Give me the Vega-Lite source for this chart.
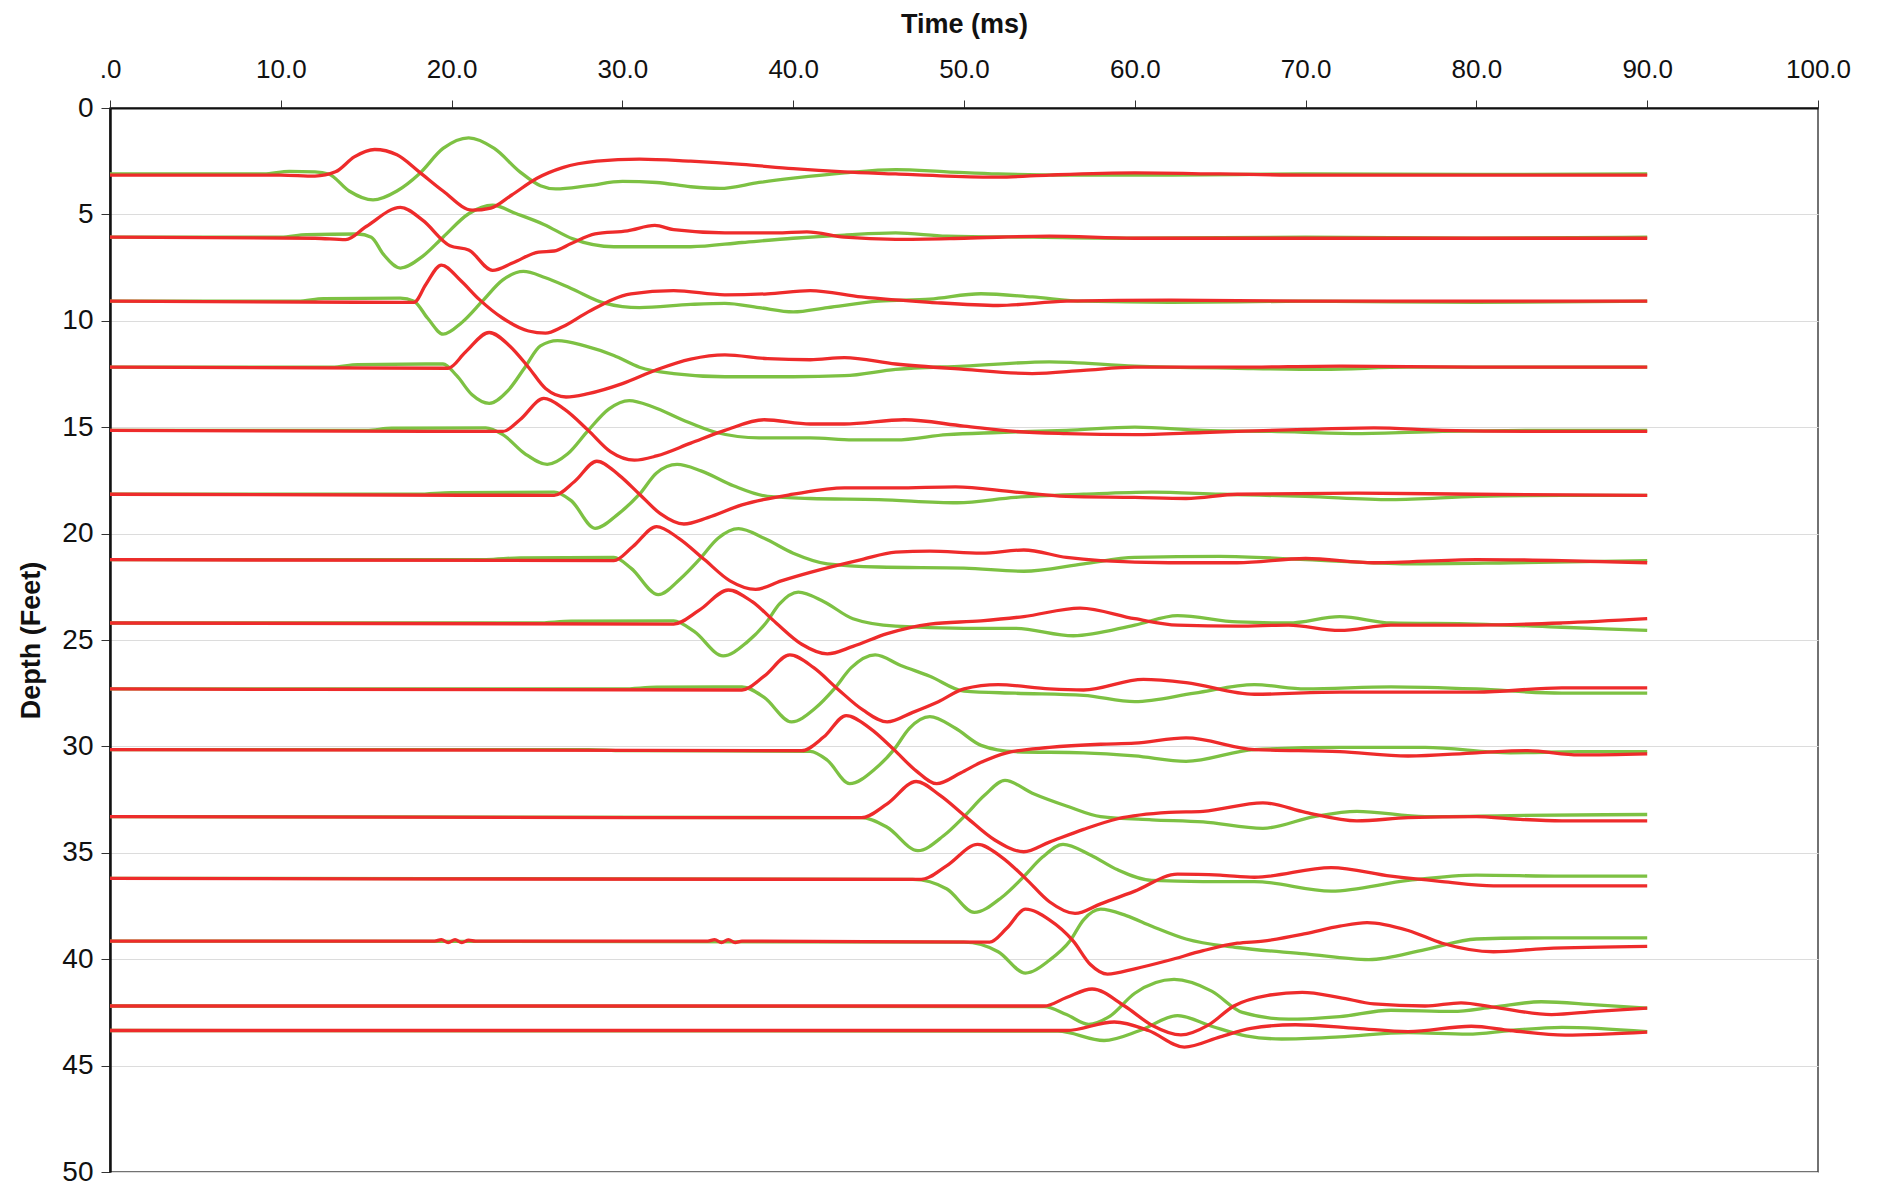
{
"$schema": "https://vega.github.io/schema/vega-lite/v6.json",
"width": 1708, "height": 1064,
"autosize": {"type": "none"},
"padding": {"left": 110, "top": 108, "right": 63, "bottom": 14},
"background": "white",
"config": {"view": {"stroke": "#444", "strokeWidth": 1.5}, "font": "Liberation Sans"},
"datasets": {
"green": [
{"s":1,"t":0,"y":3.1},{"s":1,"t":9,"y":3.1},{"s":1,"t":10.5,"y":2.98},{"s":1,"t":12,"y":3.0},{"s":1,"t":12.8,"y":3.1},{"s":1,"t":14,"y":3.9},{"s":1,"t":15.4,"y":4.32},{"s":1,"t":16.8,"y":3.9},{"s":1,"t":18.1,"y":3.1},{"s":1,"t":19.5,"y":1.9},{"s":1,"t":21,"y":1.4},{"s":1,"t":22.5,"y":1.9},{"s":1,"t":24,"y":3.0},{"s":1,"t":25.2,"y":3.65},{"s":1,"t":26.1,"y":3.8},{"s":1,"t":28,"y":3.65},{"s":1,"t":30,"y":3.45},{"s":1,"t":32,"y":3.5},{"s":1,"t":34,"y":3.7},{"s":1,"t":35.7,"y":3.78},{"s":1,"t":38,"y":3.5},{"s":1,"t":40,"y":3.3},{"s":1,"t":43,"y":3.05},{"s":1,"t":46,"y":2.9},{"s":1,"t":49,"y":3.0},{"s":1,"t":52,"y":3.1},{"s":1,"t":56,"y":3.15},{"s":1,"t":62,"y":3.15},{"s":1,"t":70,"y":3.1},{"s":1,"t":80,"y":3.12},{"s":1,"t":90,"y":3.1},
{"s":2,"t":0,"y":6.07},{"s":2,"t":10,"y":6.07},{"s":2,"t":11.5,"y":5.95},{"s":2,"t":14.5,"y":5.92},{"s":2,"t":15.3,"y":6.07},{"s":2,"t":16,"y":6.87},{"s":2,"t":17,"y":7.52},{"s":2,"t":18.3,"y":6.97},{"s":2,"t":19.5,"y":6.07},{"s":2,"t":21,"y":4.97},{"s":2,"t":22.4,"y":4.57},{"s":2,"t":23.8,"y":4.97},{"s":2,"t":25.4,"y":5.47},{"s":2,"t":27.1,"y":6.15},{"s":2,"t":29.5,"y":6.52},{"s":2,"t":32,"y":6.52},{"s":2,"t":34,"y":6.52},{"s":2,"t":37,"y":6.32},{"s":2,"t":40,"y":6.12},{"s":2,"t":43,"y":5.97},{"s":2,"t":46,"y":5.87},{"s":2,"t":49,"y":6.02},{"s":2,"t":54,"y":6.07},{"s":2,"t":60,"y":6.12},{"s":2,"t":70,"y":6.07},{"s":2,"t":80,"y":6.12},{"s":2,"t":90,"y":6.07},
{"s":3,"t":0,"y":9.08},{"s":3,"t":11,"y":9.08},{"s":3,"t":12.5,"y":8.96},{"s":3,"t":17,"y":8.93},{"s":3,"t":17.8,"y":9.08},{"s":3,"t":18.6,"y":9.88},{"s":3,"t":19.5,"y":10.63},{"s":3,"t":20.6,"y":10.08},{"s":3,"t":21.8,"y":9.08},{"s":3,"t":23,"y":8.08},{"s":3,"t":24.2,"y":7.68},{"s":3,"t":25.5,"y":7.98},{"s":3,"t":27,"y":8.48},{"s":3,"t":29,"y":9.18},{"s":3,"t":31,"y":9.38},{"s":3,"t":34,"y":9.23},{"s":3,"t":36,"y":9.18},{"s":3,"t":38,"y":9.38},{"s":3,"t":40,"y":9.58},{"s":3,"t":42,"y":9.38},{"s":3,"t":45,"y":9.08},{"s":3,"t":48,"y":8.98},{"s":3,"t":51,"y":8.73},{"s":3,"t":54,"y":8.88},{"s":3,"t":57,"y":9.08},{"s":3,"t":62,"y":9.13},{"s":3,"t":70,"y":9.08},{"s":3,"t":80,"y":9.13},{"s":3,"t":90,"y":9.08},
{"s":4,"t":0,"y":12.18},{"s":4,"t":13,"y":12.18},{"s":4,"t":14.5,"y":12.06},{"s":4,"t":19.5,"y":12.03},{"s":4,"t":20.3,"y":12.58},{"s":4,"t":21.2,"y":13.48},{"s":4,"t":22.2,"y":13.88},{"s":4,"t":23.3,"y":13.28},{"s":4,"t":24.3,"y":12.18},{"s":4,"t":25.2,"y":11.18},{"s":4,"t":26.2,"y":10.93},{"s":4,"t":27.8,"y":11.18},{"s":4,"t":29.5,"y":11.63},{"s":4,"t":31,"y":12.18},{"s":4,"t":33,"y":12.48},{"s":4,"t":36,"y":12.63},{"s":4,"t":40,"y":12.63},{"s":4,"t":43,"y":12.58},{"s":4,"t":46,"y":12.28},{"s":4,"t":50,"y":12.13},{"s":4,"t":55,"y":11.93},{"s":4,"t":60,"y":12.13},{"s":4,"t":66,"y":12.23},{"s":4,"t":71,"y":12.28},{"s":4,"t":76,"y":12.18},{"s":4,"t":90,"y":12.18},
{"s":5,"t":0,"y":15.15},{"s":5,"t":15,"y":15.15},{"s":5,"t":16.5,"y":15.05},{"s":5,"t":22,"y":15.03},{"s":5,"t":23,"y":15.35},{"s":5,"t":24.3,"y":16.25},{"s":5,"t":25.6,"y":16.75},{"s":5,"t":26.8,"y":16.25},{"s":5,"t":28,"y":15.15},{"s":5,"t":29.2,"y":14.15},{"s":5,"t":30.4,"y":13.75},{"s":5,"t":31.8,"y":14.05},{"s":5,"t":33.5,"y":14.65},{"s":5,"t":35.5,"y":15.25},{"s":5,"t":38,"y":15.5},{"s":5,"t":41,"y":15.5},{"s":5,"t":43.5,"y":15.6},{"s":5,"t":46,"y":15.6},{"s":5,"t":49,"y":15.35},{"s":5,"t":52,"y":15.25},{"s":5,"t":56,"y":15.15},{"s":5,"t":60,"y":15.0},{"s":5,"t":64,"y":15.15},{"s":5,"t":68,"y":15.2},{"s":5,"t":73,"y":15.3},{"s":5,"t":78,"y":15.2},{"s":5,"t":84,"y":15.15},{"s":5,"t":90,"y":15.15},
{"s":6,"t":0,"y":18.15},{"s":6,"t":18,"y":18.15},{"s":6,"t":20,"y":18.07},{"s":6,"t":26,"y":18.05},{"s":6,"t":27,"y":18.45},{"s":6,"t":28.4,"y":19.75},{"s":6,"t":29.8,"y":19.05},{"s":6,"t":31,"y":18.15},{"s":6,"t":32,"y":17.15},{"s":6,"t":33.2,"y":16.75},{"s":6,"t":34.6,"y":17.05},{"s":6,"t":36.5,"y":17.75},{"s":6,"t":38.5,"y":18.25},{"s":6,"t":41,"y":18.35},{"s":6,"t":45,"y":18.4},{"s":6,"t":49.6,"y":18.55},{"s":6,"t":53,"y":18.3},{"s":6,"t":57,"y":18.15},{"s":6,"t":61,"y":18.05},{"s":6,"t":65,"y":18.15},{"s":6,"t":70,"y":18.25},{"s":6,"t":75,"y":18.4},{"s":6,"t":80,"y":18.25},{"s":6,"t":85,"y":18.2},{"s":6,"t":90,"y":18.2},
{"s":7,"t":0,"y":21.22},{"s":7,"t":22,"y":21.22},{"s":7,"t":24,"y":21.14},{"s":7,"t":29.5,"y":21.12},{"s":7,"t":30.5,"y":21.62},{"s":7,"t":32.1,"y":22.87},{"s":7,"t":33.4,"y":22.12},{"s":7,"t":34.5,"y":21.22},{"s":7,"t":35.6,"y":20.22},{"s":7,"t":36.8,"y":19.77},{"s":7,"t":38.3,"y":20.22},{"s":7,"t":40,"y":20.92},{"s":7,"t":42,"y":21.42},{"s":7,"t":45,"y":21.57},{"s":7,"t":50,"y":21.62},{"s":7,"t":53.5,"y":21.77},{"s":7,"t":57,"y":21.42},{"s":7,"t":60,"y":21.12},{"s":7,"t":65,"y":21.07},{"s":7,"t":70,"y":21.22},{"s":7,"t":76,"y":21.42},{"s":7,"t":82,"y":21.37},{"s":7,"t":90,"y":21.27},
{"s":8,"t":0,"y":24.2},{"s":8,"t":25,"y":24.2},{"s":8,"t":27,"y":24.12},{"s":8,"t":33,"y":24.1},{"s":8,"t":34.2,"y":24.6},{"s":8,"t":35.9,"y":25.75},{"s":8,"t":37.3,"y":25.1},{"s":8,"t":38.4,"y":24.2},{"s":8,"t":39.2,"y":23.3},{"s":8,"t":40.3,"y":22.75},{"s":8,"t":41.8,"y":23.2},{"s":8,"t":43.5,"y":24.0},{"s":8,"t":46,"y":24.35},{"s":8,"t":50,"y":24.45},{"s":8,"t":53,"y":24.45},{"s":8,"t":56.4,"y":24.8},{"s":8,"t":60,"y":24.3},{"s":8,"t":62.5,"y":23.85},{"s":8,"t":66,"y":24.15},{"s":8,"t":69,"y":24.2},{"s":8,"t":72,"y":23.9},{"s":8,"t":75,"y":24.2},{"s":8,"t":80,"y":24.25},{"s":8,"t":85,"y":24.4},{"s":8,"t":90,"y":24.55},
{"s":9,"t":0,"y":27.3},{"s":9,"t":30,"y":27.3},{"s":9,"t":32,"y":27.22},{"s":9,"t":37,"y":27.2},{"s":9,"t":38.3,"y":27.7},{"s":9,"t":39.9,"y":28.85},{"s":9,"t":41.3,"y":28.2},{"s":9,"t":42.4,"y":27.3},{"s":9,"t":43.4,"y":26.3},{"s":9,"t":44.8,"y":25.7},{"s":9,"t":46.3,"y":26.2},{"s":9,"t":48,"y":26.7},{"s":9,"t":50,"y":27.4},{"s":9,"t":53,"y":27.5},{"s":9,"t":57,"y":27.6},{"s":9,"t":60,"y":27.9},{"s":9,"t":63.5,"y":27.5},{"s":9,"t":67,"y":27.1},{"s":9,"t":70,"y":27.3},{"s":9,"t":75,"y":27.2},{"s":9,"t":80,"y":27.3},{"s":9,"t":85,"y":27.5},{"s":9,"t":90,"y":27.5},
{"s":10,"t":0,"y":30.15},{"s":10,"t":28,"y":30.15},{"s":10,"t":30,"y":30.2},{"s":10,"t":41,"y":30.23},{"s":10,"t":42,"y":30.65},{"s":10,"t":43.3,"y":31.75},{"s":10,"t":44.8,"y":31.05},{"s":10,"t":45.9,"y":30.15},{"s":10,"t":46.8,"y":29.15},{"s":10,"t":48,"y":28.6},{"s":10,"t":49.5,"y":29.15},{"s":10,"t":51,"y":29.95},{"s":10,"t":53,"y":30.25},{"s":10,"t":57,"y":30.3},{"s":10,"t":60,"y":30.45},{"s":10,"t":63,"y":30.7},{"s":10,"t":67,"y":30.15},{"s":10,"t":72,"y":30.05},{"s":10,"t":77,"y":30.05},{"s":10,"t":82,"y":30.3},{"s":10,"t":86,"y":30.25},{"s":10,"t":90,"y":30.25},
{"s":11,"t":0,"y":33.3},{"s":11,"t":44,"y":33.35},{"s":11,"t":45.5,"y":33.8},{"s":11,"t":47.3,"y":34.9},{"s":11,"t":48.8,"y":34.2},{"s":11,"t":50,"y":33.3},{"s":11,"t":51.2,"y":32.3},{"s":11,"t":52.4,"y":31.6},{"s":11,"t":54,"y":32.2},{"s":11,"t":56,"y":32.8},{"s":11,"t":58,"y":33.3},{"s":11,"t":61,"y":33.45},{"s":11,"t":64,"y":33.55},{"s":11,"t":67.5,"y":33.85},{"s":11,"t":70.5,"y":33.3},{"s":11,"t":73,"y":33.05},{"s":11,"t":77,"y":33.3},{"s":11,"t":82,"y":33.25},{"s":11,"t":90,"y":33.2},
{"s":12,"t":0,"y":36.2},{"s":12,"t":47,"y":36.25},{"s":12,"t":49,"y":36.7},{"s":12,"t":50.6,"y":37.8},{"s":12,"t":52.2,"y":37.1},{"s":12,"t":53.4,"y":36.2},{"s":12,"t":54.6,"y":35.2},{"s":12,"t":55.8,"y":34.6},{"s":12,"t":57.4,"y":35.1},{"s":12,"t":59,"y":35.8},{"s":12,"t":61,"y":36.3},{"s":12,"t":64,"y":36.35},{"s":12,"t":67,"y":36.35},{"s":12,"t":71.5,"y":36.8},{"s":12,"t":76,"y":36.3},{"s":12,"t":80,"y":36.05},{"s":12,"t":85,"y":36.1},{"s":12,"t":90,"y":36.1},
{"s":13,"t":0,"y":39.15},{"s":13,"t":50,"y":39.2},{"s":13,"t":52,"y":39.65},{"s":13,"t":53.6,"y":40.65},{"s":13,"t":55,"y":40.05},{"s":13,"t":56.2,"y":39.15},{"s":13,"t":57,"y":38.15},{"s":13,"t":58,"y":37.65},{"s":13,"t":59.5,"y":37.95},{"s":13,"t":61,"y":38.45},{"s":13,"t":63,"y":39.05},{"s":13,"t":66,"y":39.45},{"s":13,"t":70,"y":39.75},{"s":13,"t":73.7,"y":40.02},{"s":13,"t":77,"y":39.55},{"s":13,"t":80,"y":39.05},{"s":13,"t":84,"y":39.0},{"s":13,"t":90,"y":39.0},
{"s":14,"t":0,"y":42.2},{"s":14,"t":54.7,"y":42.23},{"s":14,"t":56,"y":42.6},{"s":14,"t":57.3,"y":43.06},{"s":14,"t":58.5,"y":42.7},{"s":14,"t":60,"y":41.6},{"s":14,"t":62.3,"y":40.95},{"s":14,"t":64.5,"y":41.5},{"s":14,"t":66.3,"y":42.5},{"s":14,"t":69,"y":42.82},{"s":14,"t":72,"y":42.7},{"s":14,"t":75,"y":42.4},{"s":14,"t":78.6,"y":42.45},{"s":14,"t":81,"y":42.25},{"s":14,"t":83.8,"y":42.0},{"s":14,"t":87,"y":42.15},{"s":14,"t":90,"y":42.3},
{"s":15,"t":0,"y":43.35},{"s":15,"t":55.5,"y":43.38},{"s":15,"t":58.2,"y":43.82},{"s":15,"t":60.3,"y":43.35},{"s":15,"t":62.5,"y":42.65},{"s":15,"t":64.5,"y":43.15},{"s":15,"t":66.5,"y":43.6},{"s":15,"t":68.6,"y":43.75},{"s":15,"t":72,"y":43.65},{"s":15,"t":76,"y":43.45},{"s":15,"t":79.5,"y":43.52},{"s":15,"t":82,"y":43.35},{"s":15,"t":85,"y":43.2},{"s":15,"t":90,"y":43.4}
],
"red": [
{"s":1,"t":0,"y":3.15},{"s":1,"t":10,"y":3.15},{"s":1,"t":12,"y":3.2},{"s":1,"t":13.2,"y":3.0},{"s":1,"t":14.3,"y":2.3},{"s":1,"t":15.5,"y":1.95},{"s":1,"t":16.8,"y":2.2},{"s":1,"t":18.1,"y":3.0},{"s":1,"t":19.5,"y":3.9},{"s":1,"t":21.2,"y":4.8},{"s":1,"t":22.3,"y":4.7},{"s":1,"t":23.5,"y":4.1},{"s":1,"t":25,"y":3.3},{"s":1,"t":26.5,"y":2.8},{"s":1,"t":28.5,"y":2.5},{"s":1,"t":31,"y":2.4},{"s":1,"t":34,"y":2.5},{"s":1,"t":37,"y":2.65},{"s":1,"t":40,"y":2.85},{"s":1,"t":43,"y":3.0},{"s":1,"t":46,"y":3.1},{"s":1,"t":49,"y":3.2},{"s":1,"t":52,"y":3.25},{"s":1,"t":55,"y":3.15},{"s":1,"t":60,"y":3.05},{"s":1,"t":65,"y":3.1},{"s":1,"t":70,"y":3.15},{"s":1,"t":80,"y":3.15},{"s":1,"t":90,"y":3.15},
{"s":2,"t":0,"y":6.07},{"s":2,"t":12,"y":6.12},{"s":2,"t":13.8,"y":6.19},{"s":2,"t":15,"y":5.57},{"s":2,"t":17,"y":4.67},{"s":2,"t":18.3,"y":5.27},{"s":2,"t":19.9,"y":6.47},{"s":2,"t":21,"y":6.67},{"s":2,"t":22.4,"y":7.63},{"s":2,"t":23.6,"y":7.27},{"s":2,"t":25.1,"y":6.77},{"s":2,"t":26,"y":6.72},{"s":2,"t":27,"y":6.37},{"s":2,"t":28.4,"y":5.91},{"s":2,"t":30.3,"y":5.77},{"s":2,"t":31.9,"y":5.52},{"s":2,"t":33,"y":5.72},{"s":2,"t":36,"y":5.87},{"s":2,"t":39,"y":5.87},{"s":2,"t":40.8,"y":5.82},{"s":2,"t":43,"y":6.07},{"s":2,"t":46,"y":6.17},{"s":2,"t":50,"y":6.12},{"s":2,"t":55,"y":6.02},{"s":2,"t":60,"y":6.12},{"s":2,"t":70,"y":6.12},{"s":2,"t":80,"y":6.12},{"s":2,"t":90,"y":6.12},
{"s":3,"t":0,"y":9.08},{"s":3,"t":17,"y":9.13},{"s":3,"t":17.8,"y":9.13},{"s":3,"t":18.5,"y":8.28},{"s":3,"t":19.4,"y":7.38},{"s":3,"t":20.5,"y":8.08},{"s":3,"t":21.6,"y":8.98},{"s":3,"t":23,"y":9.88},{"s":3,"t":24.5,"y":10.48},{"s":3,"t":25.5,"y":10.58},{"s":3,"t":26.5,"y":10.28},{"s":3,"t":28,"y":9.58},{"s":3,"t":30.5,"y":8.73},{"s":3,"t":33,"y":8.58},{"s":3,"t":36,"y":8.78},{"s":3,"t":38.5,"y":8.73},{"s":3,"t":41,"y":8.58},{"s":3,"t":44,"y":8.88},{"s":3,"t":48,"y":9.13},{"s":3,"t":52,"y":9.28},{"s":3,"t":56,"y":9.08},{"s":3,"t":62,"y":9.03},{"s":3,"t":70,"y":9.08},{"s":3,"t":80,"y":9.08},{"s":3,"t":90,"y":9.08},
{"s":4,"t":0,"y":12.18},{"s":4,"t":19.8,"y":12.23},{"s":4,"t":20.8,"y":11.48},{"s":4,"t":22.2,"y":10.55},{"s":4,"t":23.4,"y":11.18},{"s":4,"t":24.5,"y":12.18},{"s":4,"t":25.5,"y":13.18},{"s":4,"t":26.7,"y":13.58},{"s":4,"t":28,"y":13.42},{"s":4,"t":30,"y":12.95},{"s":4,"t":32,"y":12.3},{"s":4,"t":34,"y":11.8},{"s":4,"t":36,"y":11.6},{"s":4,"t":38.5,"y":11.78},{"s":4,"t":41,"y":11.83},{"s":4,"t":43,"y":11.73},{"s":4,"t":46,"y":12.03},{"s":4,"t":50,"y":12.28},{"s":4,"t":54,"y":12.48},{"s":4,"t":57,"y":12.33},{"s":4,"t":60,"y":12.18},{"s":4,"t":66,"y":12.18},{"s":4,"t":72,"y":12.13},{"s":4,"t":80,"y":12.18},{"s":4,"t":90,"y":12.18},
{"s":5,"t":0,"y":15.15},{"s":5,"t":23,"y":15.2},{"s":5,"t":24,"y":14.65},{"s":5,"t":25.4,"y":13.65},{"s":5,"t":26.6,"y":14.15},{"s":5,"t":28,"y":15.15},{"s":5,"t":29.3,"y":16.15},{"s":5,"t":30.7,"y":16.55},{"s":5,"t":32,"y":16.35},{"s":5,"t":34,"y":15.75},{"s":5,"t":36,"y":15.15},{"s":5,"t":38.3,"y":14.65},{"s":5,"t":41,"y":14.85},{"s":5,"t":43,"y":14.85},{"s":5,"t":46.5,"y":14.65},{"s":5,"t":50,"y":14.95},{"s":5,"t":53,"y":15.2},{"s":5,"t":56,"y":15.3},{"s":5,"t":60,"y":15.35},{"s":5,"t":64,"y":15.25},{"s":5,"t":70,"y":15.1},{"s":5,"t":74,"y":15.03},{"s":5,"t":78,"y":15.15},{"s":5,"t":84,"y":15.2},{"s":5,"t":90,"y":15.2},
{"s":6,"t":0,"y":18.15},{"s":6,"t":26,"y":18.2},{"s":6,"t":27.2,"y":17.55},{"s":6,"t":28.5,"y":16.6},{"s":6,"t":29.8,"y":17.25},{"s":6,"t":31,"y":18.15},{"s":6,"t":32.2,"y":19.05},{"s":6,"t":33.6,"y":19.55},{"s":6,"t":35,"y":19.25},{"s":6,"t":37,"y":18.65},{"s":6,"t":40,"y":18.15},{"s":6,"t":43,"y":17.85},{"s":6,"t":46,"y":17.85},{"s":6,"t":49.5,"y":17.8},{"s":6,"t":53,"y":18.05},{"s":6,"t":56,"y":18.25},{"s":6,"t":60,"y":18.3},{"s":6,"t":63,"y":18.35},{"s":6,"t":66,"y":18.15},{"s":6,"t":73,"y":18.1},{"s":6,"t":80,"y":18.15},{"s":6,"t":90,"y":18.2},
{"s":7,"t":0,"y":21.22},{"s":7,"t":29.5,"y":21.27},{"s":7,"t":30.6,"y":20.62},{"s":7,"t":32,"y":19.67},{"s":7,"t":33.3,"y":20.22},{"s":7,"t":34.8,"y":21.22},{"s":7,"t":36.3,"y":22.22},{"s":7,"t":37.8,"y":22.62},{"s":7,"t":39.3,"y":22.22},{"s":7,"t":41,"y":21.82},{"s":7,"t":44,"y":21.22},{"s":7,"t":46,"y":20.87},{"s":7,"t":48,"y":20.82},{"s":7,"t":51,"y":20.92},{"s":7,"t":53.5,"y":20.77},{"s":7,"t":56,"y":21.12},{"s":7,"t":58,"y":21.27},{"s":7,"t":62,"y":21.37},{"s":7,"t":66,"y":21.37},{"s":7,"t":70,"y":21.17},{"s":7,"t":74,"y":21.37},{"s":7,"t":80,"y":21.22},{"s":7,"t":85,"y":21.27},{"s":7,"t":90,"y":21.37},
{"s":8,"t":0,"y":24.2},{"s":8,"t":33,"y":24.25},{"s":8,"t":34.5,"y":23.6},{"s":8,"t":36.2,"y":22.65},{"s":8,"t":37.6,"y":23.2},{"s":8,"t":39,"y":24.2},{"s":8,"t":40.5,"y":25.2},{"s":8,"t":42,"y":25.65},{"s":8,"t":43.5,"y":25.3},{"s":8,"t":45.5,"y":24.7},{"s":8,"t":48,"y":24.25},{"s":8,"t":51,"y":24.1},{"s":8,"t":53.5,"y":23.9},{"s":8,"t":56.8,"y":23.5},{"s":8,"t":60,"y":24.0},{"s":8,"t":62.5,"y":24.3},{"s":8,"t":66,"y":24.35},{"s":8,"t":69,"y":24.3},{"s":8,"t":72,"y":24.55},{"s":8,"t":75,"y":24.3},{"s":8,"t":80,"y":24.3},{"s":8,"t":85,"y":24.2},{"s":8,"t":90,"y":24.0},
{"s":9,"t":0,"y":27.3},{"s":9,"t":37,"y":27.35},{"s":9,"t":38.3,"y":26.7},{"s":9,"t":39.8,"y":25.7},{"s":9,"t":41.2,"y":26.3},{"s":9,"t":42.6,"y":27.3},{"s":9,"t":44.1,"y":28.3},{"s":9,"t":45.5,"y":28.85},{"s":9,"t":47,"y":28.4},{"s":9,"t":48.5,"y":27.9},{"s":9,"t":50,"y":27.3},{"s":9,"t":52,"y":27.1},{"s":9,"t":55,"y":27.3},{"s":9,"t":57,"y":27.35},{"s":9,"t":60.5,"y":26.85},{"s":9,"t":63,"y":27.0},{"s":9,"t":67,"y":27.55},{"s":9,"t":72,"y":27.45},{"s":9,"t":80,"y":27.45},{"s":9,"t":85,"y":27.25},{"s":9,"t":90,"y":27.25},
{"s":10,"t":0,"y":30.15},{"s":10,"t":40.5,"y":30.2},{"s":10,"t":41.8,"y":29.55},{"s":10,"t":43.1,"y":28.55},{"s":10,"t":44.5,"y":29.15},{"s":10,"t":45.9,"y":30.15},{"s":10,"t":47.2,"y":31.15},{"s":10,"t":48.4,"y":31.75},{"s":10,"t":49.8,"y":31.25},{"s":10,"t":51,"y":30.75},{"s":10,"t":52.5,"y":30.3},{"s":10,"t":55,"y":30.05},{"s":10,"t":58,"y":29.9},{"s":10,"t":60,"y":29.85},{"s":10,"t":63,"y":29.6},{"s":10,"t":67,"y":30.15},{"s":10,"t":72,"y":30.25},{"s":10,"t":76,"y":30.45},{"s":10,"t":80,"y":30.3},{"s":10,"t":83,"y":30.2},{"s":10,"t":86,"y":30.4},{"s":10,"t":90,"y":30.35},
{"s":11,"t":0,"y":33.3},{"s":11,"t":44,"y":33.35},{"s":11,"t":45.5,"y":32.7},{"s":11,"t":47.2,"y":31.65},{"s":11,"t":48.6,"y":32.3},{"s":11,"t":50.1,"y":33.3},{"s":11,"t":51.8,"y":34.4},{"s":11,"t":53.5,"y":34.95},{"s":11,"t":55,"y":34.5},{"s":11,"t":57,"y":33.9},{"s":11,"t":59,"y":33.4},{"s":11,"t":62,"y":33.1},{"s":11,"t":64,"y":33.05},{"s":11,"t":67.5,"y":32.65},{"s":11,"t":70,"y":33.1},{"s":11,"t":73,"y":33.5},{"s":11,"t":76,"y":33.35},{"s":11,"t":80,"y":33.3},{"s":11,"t":82,"y":33.4},{"s":11,"t":85,"y":33.5},{"s":11,"t":90,"y":33.5},
{"s":12,"t":0,"y":36.2},{"s":12,"t":47.5,"y":36.25},{"s":12,"t":49,"y":35.6},{"s":12,"t":50.8,"y":34.6},{"s":12,"t":52.2,"y":35.2},{"s":12,"t":53.6,"y":36.2},{"s":12,"t":55,"y":37.3},{"s":12,"t":56.5,"y":37.85},{"s":12,"t":58,"y":37.4},{"s":12,"t":60,"y":36.8},{"s":12,"t":62.5,"y":36.0},{"s":12,"t":65,"y":36.05},{"s":12,"t":67,"y":36.15},{"s":12,"t":71.5,"y":35.7},{"s":12,"t":75,"y":36.1},{"s":12,"t":78,"y":36.35},{"s":12,"t":81,"y":36.55},{"s":12,"t":85,"y":36.55},{"s":12,"t":90,"y":36.55},
{"s":13,"t":0,"y":39.15},{"s":13,"t":19,"y":39.15},{"s":13,"t":19.4,"y":39.08},{"s":13,"t":19.8,"y":39.22},{"s":13,"t":20.2,"y":39.08},{"s":13,"t":20.6,"y":39.22},{"s":13,"t":21,"y":39.1},{"s":13,"t":21.4,"y":39.15},{"s":13,"t":35,"y":39.15},{"s":13,"t":35.4,"y":39.08},{"s":13,"t":35.8,"y":39.22},{"s":13,"t":36.2,"y":39.08},{"s":13,"t":36.6,"y":39.22},{"s":13,"t":37,"y":39.15},{"s":13,"t":51.5,"y":39.2},{"s":13,"t":52.5,"y":38.55},{"s":13,"t":53.6,"y":37.65},{"s":13,"t":55,"y":38.15},{"s":13,"t":56.4,"y":39.15},{"s":13,"t":57.4,"y":40.25},{"s":13,"t":58.4,"y":40.7},{"s":13,"t":60,"y":40.45},{"s":13,"t":62,"y":40.05},{"s":13,"t":64,"y":39.6},{"s":13,"t":66,"y":39.25},{"s":13,"t":67.5,"y":39.15},{"s":13,"t":70,"y":38.8},{"s":13,"t":72,"y":38.45},{"s":13,"t":73.6,"y":38.28},{"s":13,"t":76,"y":38.65},{"s":13,"t":78,"y":39.25},{"s":13,"t":81,"y":39.65},{"s":13,"t":84,"y":39.5},{"s":13,"t":90,"y":39.4},
{"s":14,"t":0,"y":42.2},{"s":14,"t":54.7,"y":42.2},{"s":14,"t":56,"y":41.8},{"s":14,"t":57.5,"y":41.4},{"s":14,"t":59.4,"y":42.2},{"s":14,"t":61,"y":43.1},{"s":14,"t":62.7,"y":43.56},{"s":14,"t":64.3,"y":43.1},{"s":14,"t":65.8,"y":42.2},{"s":14,"t":67.8,"y":41.7},{"s":14,"t":69.8,"y":41.56},{"s":14,"t":72,"y":41.8},{"s":14,"t":74,"y":42.1},{"s":14,"t":77,"y":42.2},{"s":14,"t":79.1,"y":42.05},{"s":14,"t":81,"y":42.25},{"s":14,"t":84.4,"y":42.6},{"s":14,"t":87,"y":42.45},{"s":14,"t":90,"y":42.3},
{"s":15,"t":0,"y":43.35},{"s":15,"t":56,"y":43.35},{"s":15,"t":58.8,"y":42.95},{"s":15,"t":60.8,"y":43.35},{"s":15,"t":62.9,"y":44.13},{"s":15,"t":65,"y":43.65},{"s":15,"t":66.8,"y":43.25},{"s":15,"t":69.4,"y":43.08},{"s":15,"t":73,"y":43.25},{"s":15,"t":76,"y":43.4},{"s":15,"t":79.7,"y":43.15},{"s":15,"t":82,"y":43.35},{"s":15,"t":85.2,"y":43.57},{"s":15,"t":90,"y":43.43}
]
},
"encoding": {
"x": {"field": "t", "type": "quantitative", "scale": {"domain": [0, 100], "nice": false, "zero": false},
 "axis": {"orient": "top", "values": [0,10,20,30,40,50,60,70,80,90,100], "labelExpr": "datum.value == 0 ? '.0' : format(datum.value, '.1f')", "title": "Time (ms)", "titleFontSize": 27, "titleFontWeight": "bold", "titlePadding": 18, "titleColor": "#111", "labelFontSize": 26, "labelColor": "#111", "labelPadding": 18, "labelFlush": false, "labelOverlap": false, "tickSize": 8, "tickColor": "#333", "domainColor": "#111", "domainWidth": 2, "grid": false}},
"y": {"field": "y", "type": "quantitative", "scale": {"domain": [0, 50], "reverse": true, "nice": false, "zero": false},
 "axis": {"values": [0,5,10,15,20,25,30,35,40,45,50], "title": "Depth (Feet)", "titleFontSize": 27, "titleFontWeight": "bold", "titlePadding": 16, "titleColor": "#111", "labelFontSize": 28, "labelColor": "#111", "labelPadding": 8, "labelFlush": false, "labelOverlap": false, "tickSize": 9, "tickColor": "#333", "domainColor": "#111", "domainWidth": 2.5, "grid": true, "gridColor": "#dcdcdc", "gridWidth": 1.2}},
"detail": {"field": "s", "type": "nominal"}
},
"layer": [
{"data": {"name": "green"}, "mark": {"type": "line", "color": "#7DC143", "strokeWidth": 3.3, "interpolate": "monotone"}},
{"data": {"name": "red"}, "mark": {"type": "line", "color": "#EE2B2B", "strokeWidth": 3.3, "interpolate": "monotone"}}
]
}
